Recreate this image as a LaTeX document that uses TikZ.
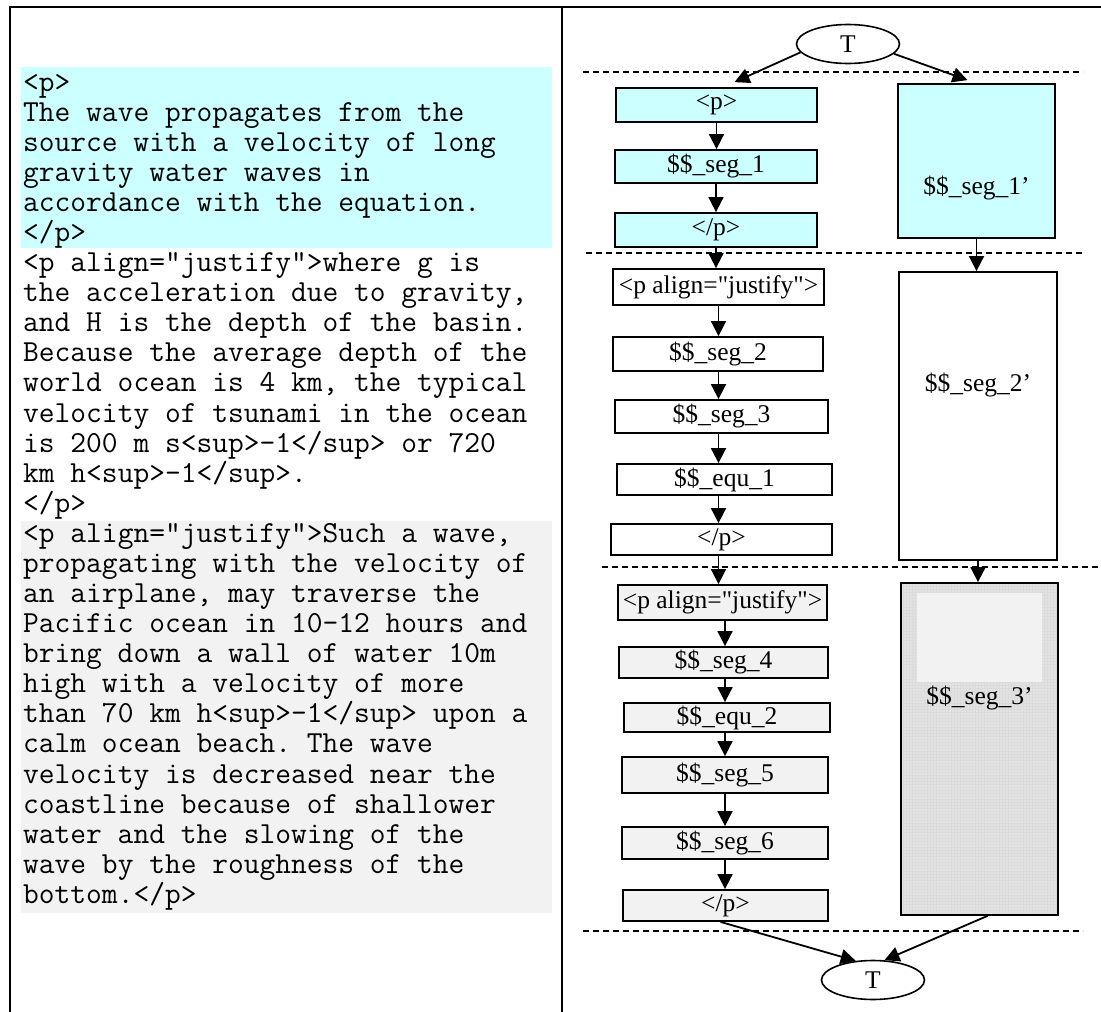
\documentclass[tikz,border=0pt]{standalone}
\usepackage{fontspec}
\newfontfamily\boxfont{Liberation Serif}
\usetikzlibrary{positioning, shapes.geometric, arrows.meta, patterns}
\definecolor{cyanbg}{HTML}{CCFFFF}
\definecolor{greybg}{HTML}{F2F2F2}
\definecolor{meshbg}{HTML}{E3E3E3}
\tikzset{
  panelline/.style={line width=2.4pt, black},
  cutline/.style  ={dash pattern=on 6pt off 4pt, line width=1.1pt},
  srctext/.style  ={anchor=north west, inner sep=0pt, align=left,
                    font=\ttfamily\fontsize{30.6}{30.07}\selectfont\frenchspacing},
  segbox/.style   ={draw, line width=1.8pt, inner sep=0pt,
                    font=\boxfont\fontsize{25.5}{30}\selectfont},
  Bcyan/.style    ={segbox, fill=cyanbg},
  Bwhite/.style   ={segbox, fill=white},
  Bgrey/.style    ={segbox, fill=greybg},
  Bmesh/.style    ={segbox, fill=meshbg,
                    postaction={pattern=grid, pattern color=black!14},
                    postaction={draw, line width=1.8pt}},
  endpt/.style    ={ellipse, draw, line width=1.6pt, inner sep=0pt,
                    minimum width=103pt, minimum height=39pt,
                    font=\boxfont\fontsize{25.5}{30}\selectfont},
  lbl/.style      ={inner sep=0pt, font=\boxfont\fontsize{25.5}{30}\selectfont},
  flow/.style     ={-{Triangle[length=15pt, width=15pt]}, line width=1.8pt},
}

\begin{document}
\begin{tikzpicture}[x=1pt, y=-1pt]
\useasboundingbox (0,0) rectangle (1101,1012);

% --- panel frame ---
\draw[panelline] (10,1012) -- (10,7) -- (1101,7);
\draw[panelline] (562,7) -- (562,1012);

% --- source text, one band per paragraph ---
\fill[cyanbg] (21,67) rectangle (552,248);
\fill[greybg] (21,521) rectangle (552,913);

\node[srctext] (para1) at (23,70)
     {\strut<p>\\
      The wave propagates from the\\
      source with a velocity of long\\
      gravity water waves in\\
      accordance with the equation.\\
      </p>};

\node[srctext] (para2) at (23,250.4)
     {\strut<p align="justify">where g is\\
      the acceleration due to gravity,\\
      and H is the depth of the basin.\\
      Because the average depth of the\\
      world ocean is 4 km, the typical\\
      velocity of tsunami in the ocean\\
      is 200 m s<sup>-1</sup> or 720\\
      km h<sup>-1</sup>.\\
      </p>};

\node[srctext] (para3) at (23,521.2)
     {\strut<p align="justify">Such a wave,\\
      propagating with the velocity of\\
      an airplane, may traverse the\\
      Pacific ocean in 10-12 hours and\\
      bring down a wall of water 10m\\
      high with a velocity of more\\
      than 70 km h<sup>-1</sup> upon a\\
      calm ocean beach. The wave\\
      velocity is decreased near the\\
      coastline because of shallower\\
      water and the slowing of the\\
      wave by the roughness of the\\
      bottom.</p>};

% --- band separators ---
\draw[cutline] (583,72)  -- (1083,72);
\draw[cutline] (586,253) -- (1083,253);
\draw[cutline] (602,567) -- (1101,567);
\draw[cutline] (583,931) -- (1083,931);

% --- terminals ---
\node[endpt] (Tt) at (848,44)  {T};
\node[endpt] (Tb) at (873,980) {T};

% --- first paragraph ---
\node[Bcyan, minimum width=201pt, minimum height=34pt] (p1)  at (716.5,105)   {<p>};
\node[Bcyan, minimum width=202pt, minimum height=33pt] (s1)  at (716,166.5)   {\$\$\_seg\_1};
\node[Bcyan, minimum width=202pt, minimum height=34pt] (pe1) at (716,230)     {</p>};
\node[Bcyan, minimum width=157pt, minimum height=154pt] (s1r) at (976.5,161) {};
\node[lbl] (s1rtxt) at ([yshift=-27pt]s1r.center) {\$\$\_seg\_1’};

% --- second paragraph ---
\node[Bwhite, minimum width=211pt, minimum height=36pt] (pa2) at (718.5,287)  {<p align="justify">};
\node[Bwhite, minimum width=210pt, minimum height=34pt] (s2)  at (718,354)    {\$\$\_seg\_2};
\node[Bwhite, minimum width=213pt, minimum height=33pt] (s3)  at (721.5,416.5){\$\$\_seg\_3};
\node[Bwhite, minimum width=215pt, minimum height=31pt] (e1)  at (724.5,479.5){\$\$\_equ\_1};
\node[Bwhite, minimum width=221pt, minimum height=31pt] (pe2) at (721.5,539.5){</p>};
\node[Bwhite, minimum width=158pt, minimum height=288pt] (s2r) at (978,416)  {};
\node[lbl] (s2rtxt) at ([yshift=31pt]s2r.center) {\$\$\_seg\_2’};

% --- third paragraph ---
\node[Bgrey, minimum width=209pt, minimum height=35pt] (pa3) at (722.5,602.5){<p align="justify">};
\node[Bgrey, minimum width=209pt, minimum height=31pt] (s4)  at (723.5,662.5){\$\$\_seg\_4};
\node[Bgrey, minimum width=206pt, minimum height=29pt] (e2)  at (727,717.5)  {\$\$\_equ\_2};
\node[Bgrey, minimum width=206pt, minimum height=36pt] (s5)  at (725,775)    {\$\$\_seg\_5};
\node[Bgrey, minimum width=206pt, minimum height=32pt] (s6)  at (725,843)    {\$\$\_seg\_6};
\node[Bgrey, minimum width=205pt, minimum height=31pt] (pe3) at (725.5,905.5){</p>};
\node[Bmesh, minimum width=157pt, minimum height=332pt] (s3r) at (979.5,749) {};
\fill[greybg] (917,593) rectangle (1042,682);
\node[lbl] (s3rtxt) at ([yshift=51pt]s3r.center) {\$\$\_seg\_3’};

% --- flow arrows ---
\draw[flow] (Tt.190) -- ([xshift=18pt,yshift=5pt]p1.north);
\draw[flow] (Tt.348) -- ([xshift=-9pt,yshift=3pt]s1r.north);

\foreach \a/\b in {p1/s1, s1/pe1, pe1/pa2}
  \draw[flow] (\a.south) -- (\a.south |- \b.north);
\foreach \a/\b in {pa2/s2, s2/s3, s3/e1, e1/pe2, pe2/pa3}
  \draw[flow] (pa2 |- \a.south) -- (pa2 |- \b.north);
\foreach \a/\b in {pa3/s4, s4/e2, e2/s5, s5/s6, s6/pe3}
  \draw[flow] (s5 |- \a.south) -- (s5 |- \b.north);
\foreach \a/\b in {s1r/s2r, s2r/s3r}
  \draw[flow] (\a.south) -- (\a.south |- \b.north);

\draw[flow] ([xshift=-5pt]pe3.south) -- (Tb.132);
\draw[flow] ([xshift=8pt]s3r.south)  -- (Tb.60);

\end{tikzpicture}
\end{document}
